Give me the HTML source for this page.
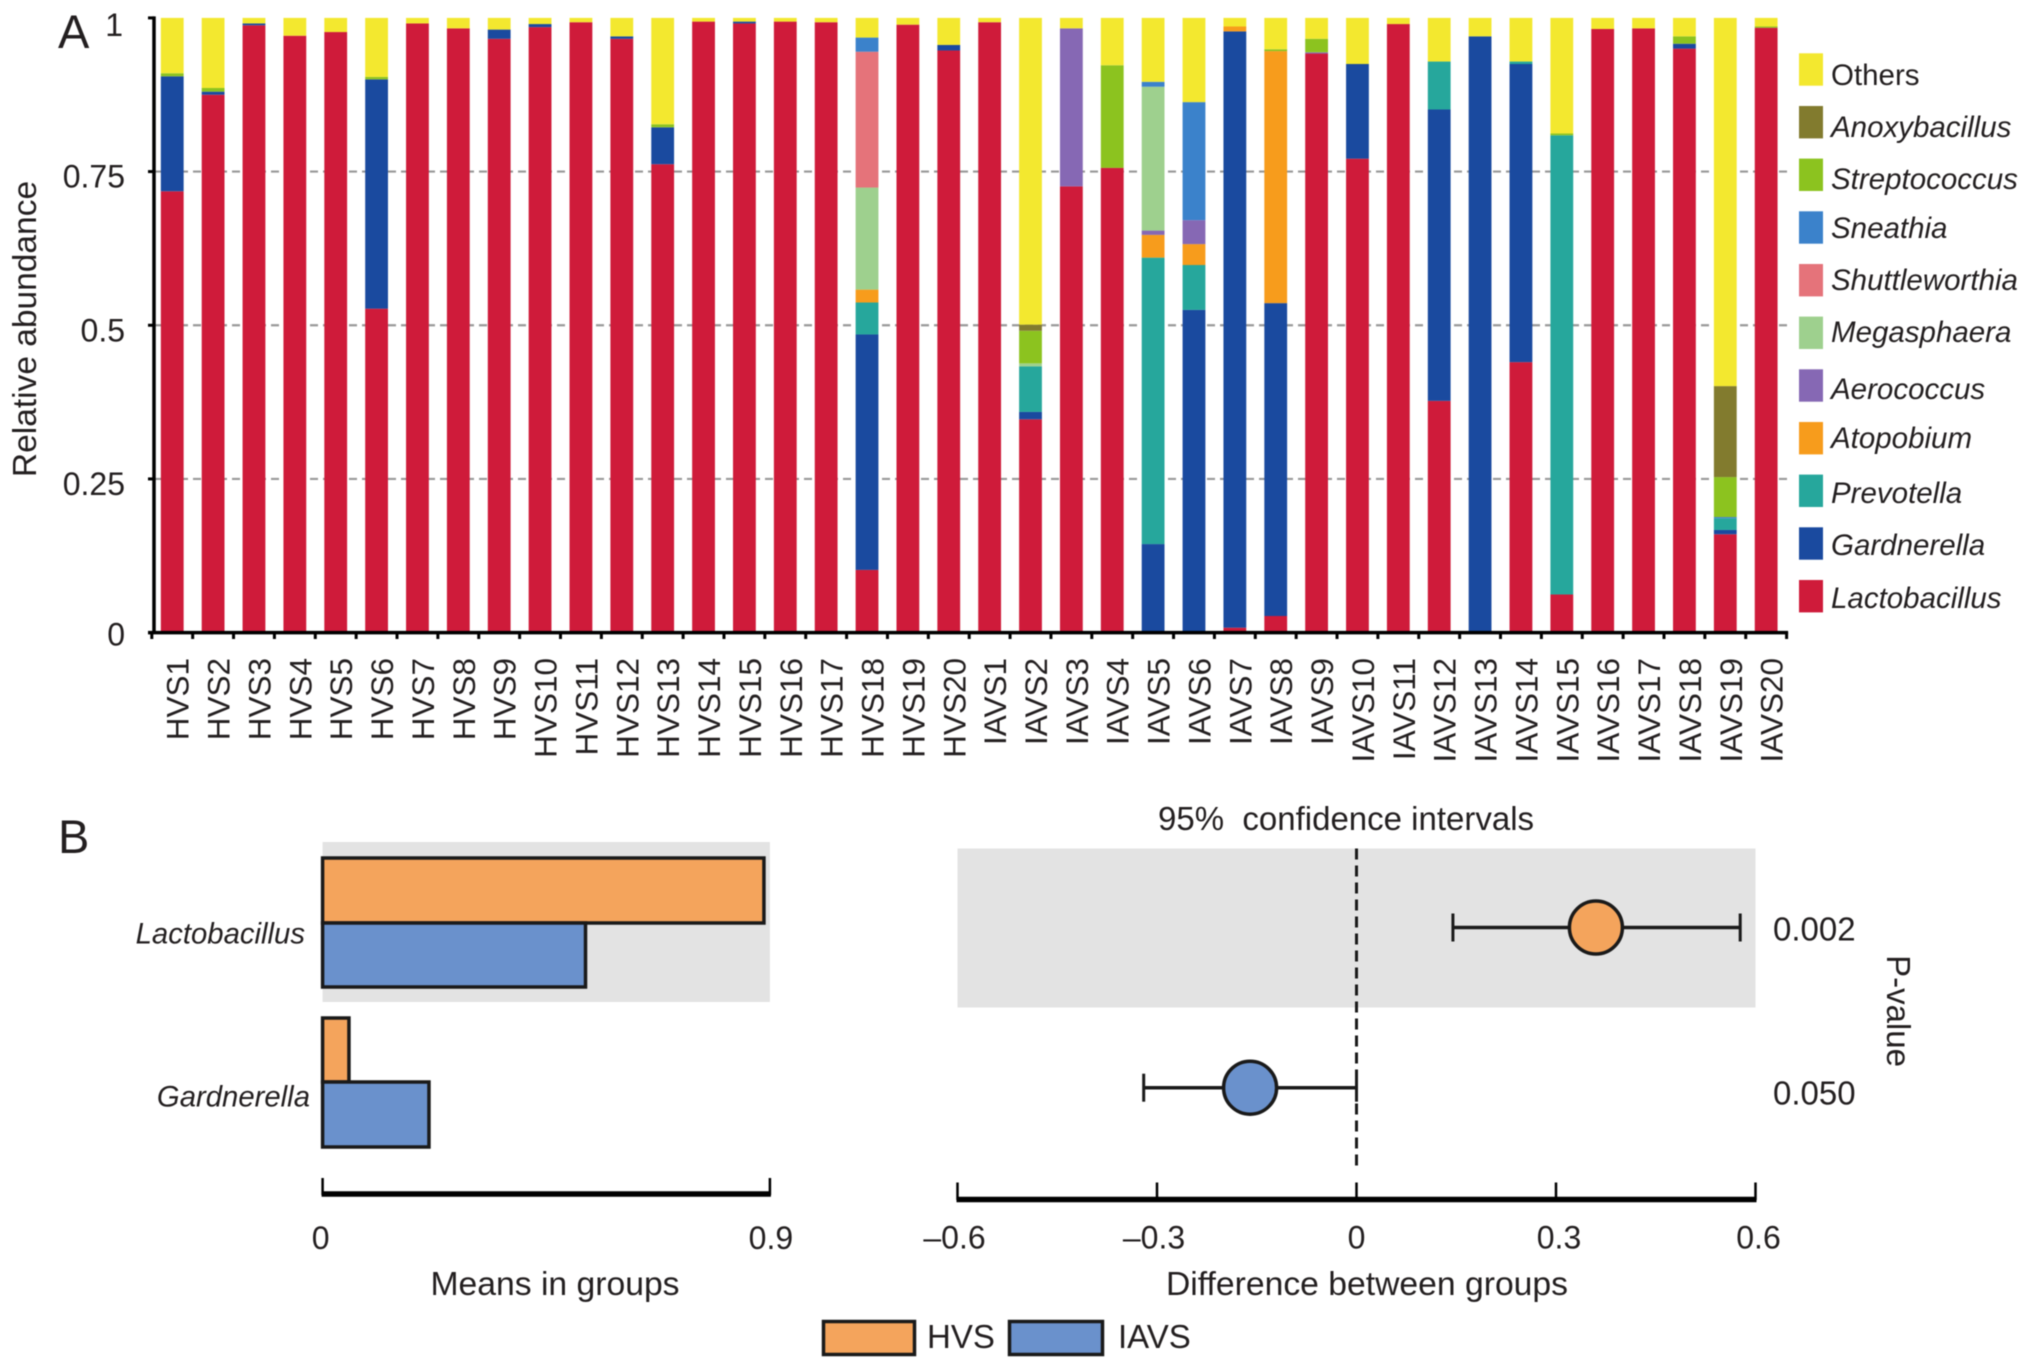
<!DOCTYPE html>
<html lang="en">
<head>
<meta charset="utf-8">
<title>Relative abundance and group differences</title>
<style>
html,body{margin:0;padding:0;background:#fff;}
svg{display:block;filter:blur(0.5px);}
text{font-family:"Liberation Sans",sans-serif;fill:#231f20;}
.lg{font-size:29.5px;font-style:italic;}
.t{font-size:33px;}
.w{font-size:33.7px;}
</style>
</head>
<body>
<svg id="fig" xmlns="http://www.w3.org/2000/svg" width="2031" height="1370" viewBox="0 0 2031 1370">
  <rect width="2031" height="1370" fill="#fff"/>
  <g id="panelA"></g>
  <g id="panelB"></g>

  <text x="58" y="48" font-size="47">A</text>
  <text x="58" y="853" font-size="47">B</text>
  <text class="w" font-size="33.5" style="font-size:33.5px" transform="translate(36,329) rotate(-90)" text-anchor="middle">Relative abundance</text>

  <g>
    <rect x="1799" y="53.3" width="24" height="32.4" fill="#f3e82f"/>
    <text x="1831" y="85" class="t" style="font-size:29.5px">Others</text>
    <rect x="1799" y="106" width="24" height="32.4" fill="#827b2e"/>
    <text x="1831" y="137" class="lg">Anoxybacillus</text>
    <rect x="1799" y="158.6" width="24" height="32.4" fill="#8cc31f"/>
    <text x="1831" y="189" class="lg">Streptococcus</text>
    <rect x="1799" y="211.3" width="24" height="32.4" fill="#3b82cb"/>
    <text x="1831" y="238" class="lg">Sneathia</text>
    <rect x="1799" y="264" width="24" height="32.4" fill="#e5737a"/>
    <text x="1831" y="290" class="lg">Shuttleworthia</text>
    <rect x="1799" y="316.6" width="24" height="32.4" fill="#9ed08e"/>
    <text x="1831" y="342" class="lg">Megasphaera</text>
    <rect x="1799" y="369.3" width="24" height="32.4" fill="#8668b4"/>
    <text x="1831" y="399" class="lg">Aerococcus</text>
    <rect x="1799" y="422" width="24" height="32.4" fill="#f79c1c"/>
    <text x="1831" y="448" class="lg">Atopobium</text>
    <rect x="1799" y="474.6" width="24" height="32.4" fill="#26a79c"/>
    <text x="1831" y="503" class="lg">Prevotella</text>
    <rect x="1799" y="527.3" width="24" height="32.4" fill="#1a4a9f"/>
    <text x="1831" y="555" class="lg">Gardnerella</text>
    <rect x="1799" y="580" width="24" height="32.4" fill="#cf1b3a"/>
    <text x="1831" y="608" class="lg">Lactobacillus</text>
  </g>

  <text class="t" x="1158" y="830" xml:space="preserve">95%  confidence intervals</text>
  <text class="w" x="555" y="1295" text-anchor="middle">Means in groups</text>
  <text class="w" x="1367" y="1295" text-anchor="middle">Difference between groups</text>
  <text class="t" transform="translate(1887,1011) rotate(90)" text-anchor="middle">P-value</text>

  <g>
    <rect x="823.5" y="1321.5" width="91" height="33" fill="#f4a45c" stroke="#1a1a1a" stroke-width="3.5"/>
    <text class="t" x="927" y="1348">HVS</text>
    <rect x="1009.5" y="1321.5" width="93" height="33" fill="#6a91cc" stroke="#1a1a1a" stroke-width="3.5"/>
    <text class="t" x="1118" y="1348">IAVS</text>
  </g>
</svg>

<script>
// ---------- Panel A data ----------
const samples = ["HVS1","HVS2","HVS3","HVS4","HVS5","HVS6","HVS7","HVS8","HVS9","HVS10","HVS11","HVS12","HVS13","HVS14","HVS15","HVS16","HVS17","HVS18","HVS19","HVS20","IAVS1","IAVS2","IAVS3","IAVS4","IAVS5","IAVS6","IAVS7","IAVS8","IAVS9","IAVS10","IAVS11","IAVS12","IAVS13","IAVS14","IAVS15","IAVS16","IAVS17","IAVS18","IAVS19","IAVS20"];
const lactobacillus = [.718,.875,.988,.971,.977,.527,.991,.983,.966,.985,.993,.966,.762,.994,.991,.994,.993,.102,.989,.947,.993,.347,.726,.756,0,0,.008,.027,.942,.771,.99,.377,0,.44,.062,.982,.983,.95,.16,.984];
const gardnerella   = [.187,.005,.003,0,0,.373,0,0,.015,.005,0,.004,.06,0,.003,0,0,.383,0,.009,0,.012,0,0,.144,.525,.97,.509,0,.154,0,.474,.97,.485,0,0,0,.008,.007,0];
const prevotella    = [0,0,0,0,0,0,0,0,0,0,0,0,0,0,0,0,0,.052,0,0,0,.074,0,0,.466,.073,0,0,0,0,0,.078,0,.004,.747,0,0,0,.019,0];
const atopobium     = [0,0,0,0,0,0,0,0,0,0,0,0,0,0,0,0,0,.021,0,0,0,0,0,0,.037,.034,.008,.41,0,0,0,0,0,0,0,0,0,0,0,0];
const aerococcus    = [0,0,0,0,0,0,0,0,0,0,0,0,0,0,0,0,0,0,0,0,0,0,.257,0,.007,.039,0,0,.002,0,0,0,0,0,0,0,0,0,0,0];
const megasphaera   = [0,0,0,0,0,0,0,0,0,0,0,0,0,0,0,0,0,.166,0,0,0,.005,0,0,.234,0,0,0,0,0,0,0,0,0,0,0,0,0,0,0];
const shuttleworthia= [0,0,0,0,0,0,0,0,0,0,0,0,0,0,0,0,0,.221,0,0,0,0,0,0,0,0,0,0,0,0,0,0,0,0,0,0,0,0,0,0];
const sneathia      = [0,0,0,0,0,0,0,0,0,0,0,0,0,0,0,0,0,.023,0,0,0,0,0,0,.008,.192,0,0,0,0,0,0,0,0,0,0,0,0,.002,0];
const streptococcus = [.005,.006,0,0,0,.004,0,0,0,0,0,0,.005,0,0,0,0,0,0,0,0,.053,0,.167,0,0,0,.003,.022,0,0,0,0,0,.003,0,0,.012,.065,.002];
const anoxybacillus = [0,0,0,0,0,0,0,0,0,0,0,0,0,0,0,0,0,0,0,0,0,.01,0,0,0,0,0,0,0,0,0,0,0,0,0,0,0,0,.148,0];
const others        = [.09,.114,.009,.029,.023,.096,.009,.017,.019,.01,.007,.03,.173,.006,.006,.006,.007,.032,.011,.044,.007,.499,.017,.077,.104,.137,.014,.051,.034,.075,.01,.071,.03,.071,.188,.018,.017,.03,.599,.014];
const abundanceTicks = [0,0.25,0.5,0.75,1];
const abundanceTickLabels = ["0","0.25","0.5","0.75","1"];
const genusNames = ["lactobacillus","gardnerella","prevotella","atopobium","aerococcus","megasphaera","shuttleworthia","sneathia","streptococcus","anoxybacillus","others"];
const genusColors = ["#cf1b3a","#1a4a9f","#26a79c","#f79c1c","#8668b4","#9ed08e","#e5737a","#3b82cb","#8cc31f","#827b2e","#f3e82f"];
const genusSeries = [lactobacillus,gardnerella,prevotella,atopobium,aerococcus,megasphaera,shuttleworthia,sneathia,streptococcus,anoxybacillus,others];

// ---------- Panel B data ----------
const taxa = ["Lactobacillus","Gardnerella"];
const hvsMeans = [0.888,0.053];
const iavsMeans = [0.529,0.214];
const meanDiff = [0.36,-0.16];
const ciLow = [0.145,-0.32];
const ciHigh = [0.577,0];
const pValues = ["0.002","0.050"];
const meanTicks = [0,0.9];
const meanTickLabels = ["0","0.9"];
const diffTicks = [-0.6,-0.3,0,0.3,0.6];
const diffTickLabels = ["\u20130.6","\u20130.3","0","0.3","0.6"];

// ---------- Helpers and scales ----------
const NS = "http://www.w3.org/2000/svg";
function mk(parent, tag, attrs, txt){
  const el = document.createElementNS(NS, tag);
  for (const k in attrs) el.setAttribute(k, attrs[k]);
  if (txt !== undefined) el.textContent = txt;
  parent.appendChild(el);
  return el;
}
const yA = v => 632.6 - v * 614.7;
const bandStart = 151.8, bandStep = 40.87;
const xBand = i => bandStart + (i + 0.5) * bandStep;
const xMean = v => 322.6 + v * 497;
const xDiff = v => 1356.5 + v * 665;
const rowTop = [858, 1018];
const rowMid = [923, 1082];
const rowBot = [987, 1147];
const ciY = [927.5, 1087.7];
const labelY = [943.6, 1106.6];
const labelRight = [305, 310];
const pY = [940.6, 1104.3];
const ink = "#1a1a1a";

// ---------- Panel A ----------
const A = document.getElementById("panelA");
abundanceTicks.forEach((t, i) => {
  if (t > 0 && t < 1) {
    const g = mk(A, "line", {x1:154, x2:1787, y1:yA(t), y2:yA(t), stroke:"#999", "stroke-width":2.2, "stroke-dasharray":"8 5"});
    
    
  }
});
samples.forEach((s, i) => {
  let cum = 0;
  genusSeries.forEach((series, k) => {
    const v = series[i];
    if (v > 0) {
      const r = mk(A, "rect", {x:xBand(i) - 11.4, width:22.8, y:yA(cum + v), height:yA(cum) - yA(cum + v), fill:genusColors[k]});
      
      
      cum += v;
    }
  });
  const tick = mk(A, "line", {x1:bandStart + i * bandStep, x2:bandStart + i * bandStep, y1:632, y2:639, stroke:"#000", "stroke-width":3});
  
  
  const lab = mk(A, "text", {transform:"translate(" + (xBand(i) + 16.5) + ",658) rotate(-90)", "text-anchor":"end", "font-size":31.5}, s);
  
  
});
const lastTick = mk(A, "line", {x1:bandStart + samples.length * bandStep, x2:bandStart + samples.length * bandStep, y1:632, y2:639, stroke:"#000", "stroke-width":3});


const xAxisA = mk(A, "line", {x1:148, x2:bandStart + samples.length * bandStep + 1.5, y1:632.6, y2:632.6, stroke:"#000", "stroke-width":3.5});


const yAxisA = mk(A, "line", {x1:154, x2:154, y1:yA(1) - 1.5, y2:633, stroke:"#000", "stroke-width":3.5});


abundanceTicks.forEach((t, i) => {
  const tk = mk(A, "line", {x1:148, x2:154, y1:yA(t), y2:yA(t), stroke:"#000", "stroke-width":3});
  
  
  const lb = mk(A, "text", {x:(t === 1 ? 123 : 125), y:yA(t) + (t === 1 ? 18 : t === 0 ? 13 : 16), "text-anchor":"end", "font-size":32}, abundanceTickLabels[i]);
  
  
});

// ---------- Panel B ----------
const B = document.getElementById("panelB");
const bgL = mk(B, "rect", {x:xMean(0), y:842, width:xMean(0.9) - xMean(0), height:160, fill:"#e3e3e3"});


const bgR = mk(B, "rect", {x:xDiff(-0.6), y:848.5, width:xDiff(0.6) - xDiff(-0.6), height:159, fill:"#e3e3e3"});



taxa.forEach((name, i) => {
  const h = mk(B, "rect", {x:xMean(0), y:rowTop[i], width:xMean(hvsMeans[i]) - xMean(0), height:rowMid[i] - rowTop[i], fill:"#f4a45c", stroke:ink, "stroke-width":3.5});
  
  
  const v = mk(B, "rect", {x:xMean(0), y:rowMid[i], width:xMean(iavsMeans[i]) - xMean(0), height:rowBot[i] - rowMid[i], fill:"#6a91cc", stroke:ink, "stroke-width":3.5});
  
  
  const l = mk(B, "text", {x:labelRight[i], y:labelY[i], "text-anchor":"end", "font-size":29.3, "font-style":"italic"}, name);
  
  
});

const zero = mk(B, "line", {x1:xDiff(0), x2:xDiff(0), y1:848.5, y2:1170, stroke:ink, "stroke-width":3, "stroke-dasharray":"11 6"});



taxa.forEach((name, i) => {
  const y = ciY[i];
  const w = mk(B, "line", {x1:xDiff(ciLow[i]), x2:xDiff(ciHigh[i]), y1:y, y2:y, stroke:ink, "stroke-width":3.5});
  
  
  const c1 = mk(B, "line", {x1:xDiff(ciLow[i]), x2:xDiff(ciLow[i]), y1:y - 14, y2:y + 14, stroke:ink, "stroke-width":3});
  
  
  const c2 = mk(B, "line", {x1:xDiff(ciHigh[i]), x2:xDiff(ciHigh[i]), y1:y - 14, y2:y + 14, stroke:ink, "stroke-width":3});
  
  
  const pt = mk(B, "circle", {cx:xDiff(meanDiff[i]), cy:y, r:26.5, fill:meanDiff[i] > 0 ? "#f4a45c" : "#6a91cc", stroke:ink, "stroke-width":3.5});
  
  
  const p = mk(B, "text", {x:1773, y:pY[i], "font-size":33}, pValues[i]);
  
  
});

const axM = mk(B, "line", {x1:xMean(0) - 1, x2:xMean(0.9) + 1, y1:1194, y2:1194, stroke:"#000", "stroke-width":5.5});


meanTicks.forEach((t, i) => {
  const tk = mk(B, "line", {x1:xMean(t), x2:xMean(t), y1:1178, y2:1195, stroke:"#000", "stroke-width":2.5});
  
  
  const lb = mk(B, "text", {x:xMean(t) - 2 + (i ? 3 : 0), y:1249, "text-anchor":"middle", "font-size":32}, meanTickLabels[i]);
  
  
});
const axD = mk(B, "line", {x1:xDiff(-0.6) - 1, x2:xDiff(0.6) + 1, y1:1199.5, y2:1199.5, stroke:"#000", "stroke-width":5.5});


diffTicks.forEach((t, i) => {
  const tk = mk(B, "line", {x1:xDiff(t), x2:xDiff(t), y1:1182.5, y2:1200, stroke:"#000", "stroke-width":2.5});
  
  
  const lb = mk(B, "text", {x:xDiff(t) - (t < 0 ? 3 : 0) + (t > 0 ? 3 : 0), y:1248.5, "text-anchor":"middle", "font-size":32}, diffTickLabels[i]);
  
  
});
</script>
</body>
</html>
